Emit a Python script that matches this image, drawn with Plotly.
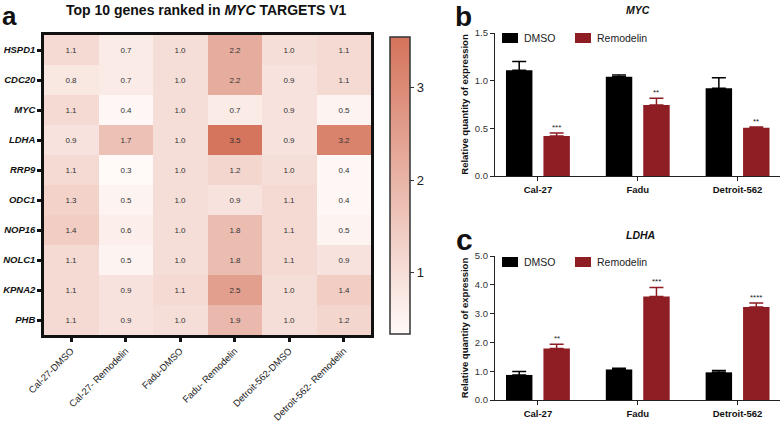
import plotly.graph_objects as go

# ---------------- data ----------------
genes = ["HSPD1", "CDC20", "MYC", "LDHA", "RRP9", "ODC1", "NOP16", "NOLC1", "KPNA2", "PHB"]
samples = ["Cal-27-DMSO", "Cal-27- Remodelin", "Fadu-DMSO", "Fadu- Remodelin",
           "Detroit-562-DMSO", "Detroit-562- Remodelin"]
heat_values = [
    [1.1, 0.7, 1.0, 2.2, 1.0, 1.1],
    [0.8, 0.7, 1.0, 2.2, 0.9, 1.1],
    [1.1, 0.4, 1.0, 0.7, 0.9, 0.5],
    [0.9, 1.7, 1.0, 3.5, 0.9, 3.2],
    [1.1, 0.3, 1.0, 1.2, 1.0, 0.4],
    [1.3, 0.5, 1.0, 0.9, 1.1, 0.4],
    [1.4, 0.6, 1.0, 1.8, 1.1, 0.5],
    [1.1, 0.5, 1.0, 1.8, 1.1, 0.9],
    [1.1, 0.9, 1.1, 2.5, 1.0, 1.4],
    [1.1, 0.9, 1.0, 1.9, 1.0, 1.2],
]

cell_lines = ["Cal-27", "Fadu", "Detroit-562"]
series_names = ["DMSO", "Remodelin"]
myc_dmso = [1.11, 1.04, 0.92]
myc_dmso_err = [0.09, 0.02, 0.11]
myc_remo = [0.42, 0.745, 0.505]
myc_remo_err = [0.03, 0.07, 0.008]
myc_sig = ["***", "**", "**"]

ldha_dmso = [0.87, 1.06, 0.96]
ldha_dmso_err = [0.12, 0.04, 0.06]
ldha_remo = [1.79, 3.59, 3.23]
ldha_remo_err = [0.15, 0.32, 0.14]
ldha_sig = ["**", "***", "****"]

DMSO_COLOR = "#000000"
REMO_COLOR = "#8F1D24"
FONT = "Liberation Sans, Arial, sans-serif"
W, H = 784, 431

def px_x(p):
    return p / W

def px_y(p):
    return 1 - p / H

fig = go.Figure()

# ---------------- heatmap ----------------
fig.add_trace(go.Heatmap(
    z=heat_values,
    x=list(range(len(samples))),
    y=list(range(len(genes))),
    text=[[f"{v:.1f}" for v in row] for row in heat_values],
    texttemplate="%{text}",
    textfont=dict(size=8, color="#333333", family=FONT),
    colorscale=[[0, "#FFFAF8"], [1, "#D4735B"]],
    zmin=0.34, zmax=3.55,
    xaxis="x", yaxis="y",
    showscale=True,
    colorbar=dict(
        x=px_x(390), xanchor="left", xref="paper", xpad=0, ypad=0,
        y=px_y(185.5), yanchor="middle",
        len=297 / H, lenmode="fraction",
        thickness=20,
        outlinewidth=1.5, outlinecolor="#333333",
        tickvals=[1, 2, 3], ticks="outside", ticklen=4, tickwidth=1,
        tickcolor="#333333",
        tickfont=dict(size=13, family=FONT, color="#222222"),
    ),
    hoverinfo="skip",
))

# ---------------- bar panels ----------------
def add_bars(dmso, dmso_err, remo, remo_err, xa, ya):
    xs = list(range(len(cell_lines)))
    fig.add_trace(go.Bar(
        x=xs, y=dmso, name=series_names[0], marker=dict(color=DMSO_COLOR, line=dict(width=0)),
        width=0.265, offset=-0.32, showlegend=False,
        error_y=dict(type="data", symmetric=False, array=dmso_err,
                     arrayminus=[0] * len(dmso), color=DMSO_COLOR, thickness=1.5, width=7),
        xaxis=xa, yaxis=ya,
    ))
    fig.add_trace(go.Bar(
        x=xs, y=remo, name=series_names[1], marker=dict(color=REMO_COLOR, line=dict(width=0)),
        width=0.265, offset=0.055, showlegend=False,
        error_y=dict(type="data", symmetric=False, array=remo_err,
                     arrayminus=[0] * len(remo), color=REMO_COLOR, thickness=1.5, width=7),
        xaxis=xa, yaxis=ya,
    ))

add_bars(myc_dmso, myc_dmso_err, myc_remo, myc_remo_err, "x2", "y2")
add_bars(ldha_dmso, ldha_dmso_err, ldha_remo, ldha_remo_err, "x3", "y3")

annotations = []
shapes = []
for i, s in enumerate(myc_sig):
    annotations.append(dict(x=i + 0.1875, y=myc_remo[i] + myc_remo_err[i], xref="x2", yref="y2",
                            text=s, showarrow=False, xanchor="center", yanchor="bottom", yshift=-1,
                            font=dict(size=8, family=FONT, color="#222222")))
for i, s in enumerate(ldha_sig):
    annotations.append(dict(x=i + 0.1875, y=ldha_remo[i] + ldha_remo_err[i], xref="x3", yref="y3",
                            text=s, showarrow=False, xanchor="center", yanchor="bottom", yshift=-1,
                            font=dict(size=8, family=FONT, color="#222222")))

# manual legends (key squares + labels) for panels b and c
for top in (33, 257):
    for name, color, x0 in ((series_names[0], DMSO_COLOR, 502), (series_names[1], REMO_COLOR, 575)):
        shapes.append(dict(type="rect", xref="paper", yref="paper",
                           x0=px_x(x0), x1=px_x(x0 + 16), y0=px_y(top + 10), y1=px_y(top),
                           fillcolor=color, line=dict(width=0)))
        annotations.append(dict(x=px_x(x0 + 20), y=px_y(top + 5), xref="paper", yref="paper",
                                text=name, showarrow=False, xanchor="left", yanchor="middle",
                                font=dict(size=10.5, family=FONT, color="#222222")))

# titles and panel letters
annotations += [
    dict(x=px_x(207), y=px_y(10), xref="paper", yref="paper", showarrow=False,
         text="<b>Top 10 genes ranked in <i>MYC</i> TARGETS V1</b>",
         font=dict(size=14, family=FONT, color="#111111"), xanchor="center", yanchor="middle"),
    dict(x=px_x(638), y=px_y(10), xref="paper", yref="paper", showarrow=False,
         text="<b><i>MYC</i></b>", font=dict(size=10.5, family=FONT, color="#111111"),
         xanchor="center", yanchor="middle"),
    dict(x=px_x(640), y=px_y(235), xref="paper", yref="paper", showarrow=False,
         text="<b><i>LDHA</i></b>", font=dict(size=10.5, family=FONT, color="#111111"),
         xanchor="center", yanchor="middle"),
    dict(x=px_x(1), y=px_y(0), xref="paper", yref="paper", showarrow=False,
         text="<b>a</b>", font=dict(size=26, family=FONT, color="#111111"),
         xanchor="left", yanchor="top", borderpad=0),
    dict(x=px_x(454), y=px_y(0), xref="paper", yref="paper", showarrow=False,
         text="<b>b</b>", font=dict(size=28, family=FONT, color="#111111"),
         xanchor="left", yanchor="top", borderpad=0),
    dict(x=px_x(455), y=px_y(222), xref="paper", yref="paper", showarrow=False,
         text="<b>c</b>", font=dict(size=30, family=FONT, color="#111111"),
         xanchor="left", yanchor="top", borderpad=0),
]

axis_common = dict(showline=True, linecolor="#222222", linewidth=1.3, ticks="outside",
                   tickcolor="#222222", ticklen=4, tickwidth=1.3, showgrid=False, zeroline=False,
                   automargin=False)

bar_x = dict(axis_common, range=[-0.43, 2.425], tickvals=[0, 1, 2],
             ticktext=[f"<b>{c}</b>" for c in cell_lines],
             tickfont=dict(size=9.5, family=FONT, color="#111111"))

fig.update_layout(
    template="none",
    width=W, height=H,
    margin=dict(l=0, r=0, t=0, b=0, autoexpand=False),
    paper_bgcolor="white", plot_bgcolor="white",
    font=dict(family=FONT, color="#222222"),
    showlegend=False,
    annotations=annotations,
    shapes=shapes,
    xaxis=dict(domain=[px_x(44), px_x(371)], range=[-0.5, 5.5],
               tickvals=list(range(len(samples))), ticktext=samples, tickangle=-45,
               tickfont=dict(size=9.5, family=FONT, color="#222222"),
               showline=True, mirror=True, linecolor="#111111", linewidth=2.5,
               ticks="outside", ticklen=4, tickwidth=2.5, tickcolor="#111111",
               showgrid=False, zeroline=False, anchor="y", automargin=False),
    yaxis=dict(domain=[px_y(335), px_y(35)], range=[9.5, -0.5],
               tickvals=list(range(len(genes))),
               ticktext=[f"<b><i>{g}</i></b>" for g in genes],
               tickfont=dict(size=9.5, family=FONT, color="#111111"),
               showline=True, mirror=True, linecolor="#111111", linewidth=2.5,
               ticks="outside", ticklen=4, tickwidth=2.5, tickcolor="#111111",
               showgrid=False, zeroline=False, anchor="x", automargin=False),
    xaxis2=dict(bar_x, domain=[px_x(495), px_x(780)], anchor="y2"),
    yaxis2=dict(axis_common, domain=[px_y(176), px_y(33)], range=[0, 1.5],
                tickvals=[0, 0.5, 1.0, 1.5], tickformat=".1f",
                tickfont=dict(size=9.5, family=FONT, color="#333333"),
                title=dict(text="<b>Relative quantity of expression</b>",
                           font=dict(size=9.5, family=FONT, color="#111111"), standoff=4),
                anchor="x2"),
    xaxis3=dict(bar_x, domain=[px_x(495), px_x(780)], anchor="y3"),
    yaxis3=dict(axis_common, domain=[px_y(400), px_y(256)], range=[0, 5],
                tickvals=[0, 1, 2, 3, 4, 5], tickformat=".1f",
                tickfont=dict(size=9.5, family=FONT, color="#333333"),
                title=dict(text="<b>Relative quantity of expression</b>",
                           font=dict(size=9.5, family=FONT, color="#111111"), standoff=4),
                anchor="x3"),
)

fig.write_html(
    "out.html",
    config={"displayModeBar": False},
    post_script="document.body.style.margin='0px';document.body.style.overflow='hidden';",
)
